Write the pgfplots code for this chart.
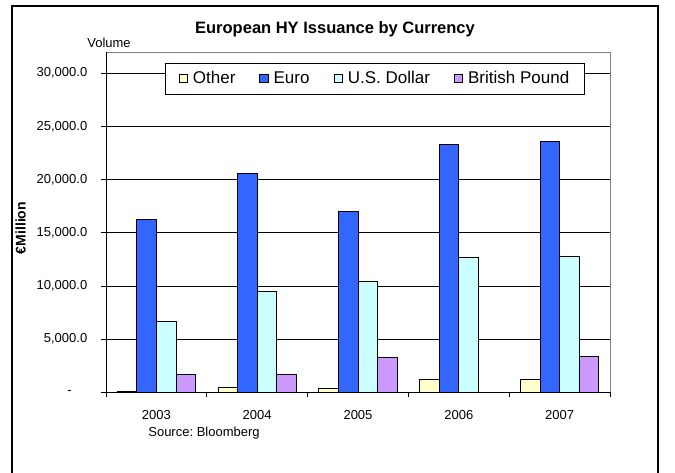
\documentclass[border=0pt]{standalone}
\usepackage{pgfplots}
\pgfplotsset{compat=1.18}
\usepackage{fontspec}
\setmainfont{Liberation Sans}
\frenchspacing
\definecolor{cOther}{HTML}{FFFFCC}
\definecolor{cEuro}{HTML}{3366FF}
\definecolor{cUSD}{HTML}{CCFFFF}
\definecolor{cGBP}{HTML}{CC99FF}
\pgfplotsset{sqlegend/.style={legend image code/.code={\draw[##1, draw=black, line width=0.7pt] (0pt,-4.2pt) rectangle (8.5pt,4.2pt);}}}
\begin{document}
\begin{tikzpicture}[x=1pt,y=1pt]
\path[use as bounding box] (0,0) rectangle (675,472);
\draw[line width=1.2pt] (12,-2) -- (12,466) -- (658,466) -- (658,-2);
\begin{axis}[
  at={(106pt,79.6pt)}, anchor=south west,
  scale only axis, width=504pt, height=340.4pt,
  xmin=-0.5, xmax=4.5, ymin=0, ymax=32000,
  ybar=0pt, bar width=19.6pt,
  xtick={0,1,2,3,4}, xticklabels={2003,2004,2005,2006,2007},
  minor xtick={-0.5,0.5,1.5,2.5,3.5,4.5},
  xtick pos=left, ytick pos=left,
  major x tick style={draw=none},
  minor x tick style={black, line width=0.8pt},
  tick align=outside, major tick length=4.5pt, minor tick length=5pt,
  y tick style={black, line width=0.8pt},
  ytick={0,5000,10000,15000,20000,25000,30000},
  yticklabels={{\makebox[20pt][l]{-}},{5,000.0},{10,000.0},{15,000.0},{20,000.0},{25,000.0},{30,000.0}},
  ymajorgrids, grid style={black, line width=0.7pt},
  axis line style={draw=none},
  tick label style={font=\fontsize{13}{15}\selectfont},
  xticklabel style={yshift=-9.5pt},
  yticklabel style={xshift=-10.7pt},
  scaled y ticks=false,
  legend columns=4,
  legend style={at={(0.5337,0.922)}, anchor=center, draw=black, line width=0.8pt, fill=white,
    font=\fontsize{17}{19}\selectfont, inner ysep=6.5pt, inner xsep=13pt,
    /tikz/every odd column/.append style={column sep=3pt},
    /tikz/every even column/.append style={column sep=22pt}},
  after end axis/.code={
    \draw[gray, line width=0.8pt] (rel axis cs:0,1) -- (rel axis cs:1,1) -- (rel axis cs:1,0);
    \draw[black, line width=0.9pt] (rel axis cs:0,1) -- (rel axis cs:0,0) -- (rel axis cs:1,0);
  },
]
\addplot[fill=cOther, draw=black, line width=0.8pt, sqlegend] coordinates {(0,100) (1,430) (2,340) (3,1200) (4,1200)};
\addplot[fill=cEuro, draw=black, line width=0.8pt, sqlegend] coordinates {(0,16300) (1,20600) (2,17050) (3,23300) (4,23550)};
\addplot[fill=cUSD, draw=black, line width=0.8pt, sqlegend] coordinates {(0,6650) (1,9450) (2,10470) (3,12700) (4,12830)};
\addplot[fill=cGBP, draw=black, line width=0.8pt, sqlegend] coordinates {(0,1650) (1,1650) (2,3280) (3,0) (4,3400)};
\legend{Other, Euro, U.S. Dollar, British Pound}
\end{axis}
\node[font=\bfseries\fontsize{16.5}{19}\selectfont] at (335,442.5) {European HY Issuance by Currency};
\node[font=\fontsize{13}{15}\selectfont] at (109,429) {Volume};
\node[font=\bfseries\fontsize{14}{16}\selectfont, rotate=90] at (20.5,244) {€Million};
\node[font=\fontsize{13}{15}\selectfont] at (204,39.3) {Source: Bloomberg};
\end{tikzpicture}
\end{document}
